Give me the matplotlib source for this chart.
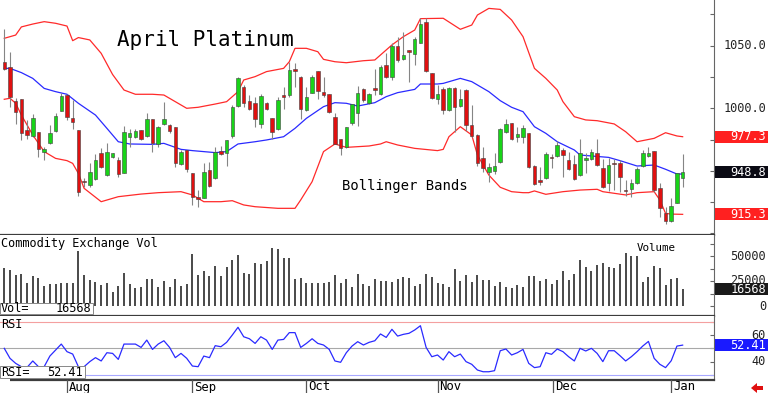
import matplotlib
matplotlib.use("Agg")
import matplotlib.pyplot as plt
import matplotlib.transforms as mtransforms
from matplotlib.patches import Rectangle, Polygon
import numpy as np

W, H = 768, 393
MONO = "DejaVu Sans Mono"
GREEN = "#18d418"
RED = "#e01010"
BAND_RED = "#ff2a2a"
BAND_BLUE = "#2a2aff"
FRAME = "#3c3c3c"

# daily OHLC, mid-Jul 2024 .. early Jan 2025 (bar index 0..119)
OPEN = [1037.2, 1033.3, 1005.8, 1007.2, 982.7, 977.9, 980.8, 965.1, 972.0, 982.1,
        998.1, 1010.4, 992.0, 982.7, 941.9, 938.7, 943.3, 964.0, 946.7, 961.4,
        958.7, 948.6, 977.3, 977.3, 982.7, 977.9, 991.7, 971.5, 987.2, 986.4,
        984.8, 955.5, 966.7, 948.1, 928.9, 928.6, 950.7, 944.1, 965.9, 964.6,
        977.9, 1001.8, 1017.3, 1006.1, 1004.5, 987.5, 1004.0, 992.0, 983.2, 1010.4,
        1010.6, 1031.1, 1024.7, 998.6, 1012.5, 1029.5, 1013.3, 1011.2, 992.8, 975.2,
        968.8, 988.5, 996.0, 1015.1, 1004.0, 1015.9, 1011.2, 1034.6, 1024.7, 1049.8,
        1039.1, 1046.6, 1043.4, 1052.4, 1068.9, 1028.5, 1007.2, 1015.7, 998.6, 1016.5,
        1001.8, 1014.6, 986.7, 978.7, 960.0, 949.4, 950.2, 957.4, 981.3, 988.0,
        976.8, 977.3, 980.5, 954.2, 942.5, 944.1, 961.4, 961.9, 966.7, 958.7,
        955.2, 946.7, 958.7, 959.2, 964.0, 952.1, 940.6, 956.6, 956.0, 935.0,
        935.3, 940.1, 953.9, 962.2, 966.2, 936.6, 916.1, 910.0, 924.6, 944.6]
HIGH = [1063.1, 1045.2, 1008.0, 1007.2, 990.7, 995.4, 980.8, 969.4, 986.7, 996.0,
        1012.0, 1011.2, 1006.6, 982.7, 944.1, 956.0, 963.5, 968.0, 972.0, 964.6,
        960.8, 985.9, 983.2, 983.2, 982.7, 996.5, 991.7, 985.9, 1005.3, 987.5,
        984.8, 966.7, 966.7, 948.1, 934.7, 956.0, 957.4, 969.4, 970.2, 974.7,
        1002.6, 1024.7, 1018.6, 1010.6, 1009.3, 1011.2, 1005.3, 992.0, 1009.3, 1017.3,
        1037.2, 1035.9, 1025.8, 1017.3, 1026.6, 1030.1, 1025.3, 1011.2, 996.5, 975.2,
        985.3, 1003.4, 1017.8, 1015.9, 1012.0, 1031.1, 1034.6, 1043.9, 1051.9, 1056.7,
        1061.2, 1046.6, 1056.7, 1071.9, 1071.9, 1028.5, 1018.6, 1017.3, 1016.7, 1016.7,
        1015.1, 1015.1, 1002.6, 979.5, 969.4, 956.6, 964.0, 984.0, 991.2, 988.0,
        985.3, 986.7, 980.5, 954.7, 953.4, 965.4, 963.5, 974.1, 968.0, 965.4,
        962.7, 975.2, 964.0, 967.5, 975.2, 959.2, 960.0, 959.2, 958.7, 942.7,
        943.3, 953.4, 966.7, 969.4, 966.2, 940.6, 920.9, 928.1, 948.1, 963.5]
LOW = [1030.6, 1001.3, 987.5, 974.7, 975.2, 977.3, 961.4, 958.7, 971.5, 981.3,
       997.8, 990.7, 983.2, 930.0, 937.4, 937.4, 942.7, 952.0, 946.2, 960.3,
       944.9, 948.1, 969.4, 976.5, 974.7, 977.3, 965.4, 969.4, 986.7, 980.5,
       953.4, 954.7, 949.4, 922.8, 921.4, 928.1, 937.4, 943.5, 962.7, 953.9,
       976.0, 1001.3, 1001.3, 998.6, 985.3, 984.0, 998.6, 975.2, 982.7, 999.2,
       1009.3, 1017.3, 991.2, 997.8, 1012.0, 1007.2, 1009.3, 996.5, 971.5, 962.7,
       968.0, 986.7, 985.9, 1005.3, 1003.4, 1010.6, 1010.6, 1023.9, 1022.6, 1037.2,
       1038.6, 1021.3, 1034.6, 1051.9, 1029.3, 1007.2, 1003.4, 995.4, 998.1, 981.3,
       1000.8, 982.1, 977.3, 953.9, 949.4, 941.4, 947.5, 956.6, 980.5, 974.7,
       973.3, 972.0, 952.1, 938.7, 938.7, 943.5, 952.1, 961.4, 945.4, 950.7,
       942.7, 946.2, 948.1, 958.7, 953.9, 936.6, 934.0, 934.7, 933.4, 930.0,
       929.4, 939.5, 953.4, 961.4, 933.4, 913.4, 907.6, 909.5, 924.1, 937.4]
CLOSE = [1031.1, 1009.3, 997.3, 980.5, 978.7, 992.0, 967.5, 967.2, 980.0, 993.9,
         1009.8, 992.8, 989.3, 933.4, 940.9, 948.9, 958.7, 953.4, 965.4, 964.0,
         947.5, 981.3, 980.5, 981.9, 975.2, 991.2, 972.0, 985.3, 991.7, 981.9,
         956.0, 965.4, 951.3, 928.9, 927.6, 948.9, 937.9, 965.4, 963.5, 974.7,
         1000.8, 1023.9, 1004.5, 999.2, 991.2, 1010.1, 999.2, 981.3, 1006.6, 1009.3,
         1030.6, 1029.5, 999.2, 1009.3, 1025.3, 1014.1, 1010.6, 997.3, 971.5, 968.0,
         984.8, 1003.2, 1012.5, 1006.6, 1011.2, 1014.6, 1033.3, 1025.3, 1049.8, 1038.6,
         1042.6, 1045.2, 1055.1, 1067.3, 1029.8, 1008.0, 1011.4, 998.6, 1016.0, 1001.3,
         1007.7, 986.7, 977.9, 956.6, 952.1, 952.8, 954.2, 983.2, 987.5, 975.2,
         979.5, 984.3, 953.4, 939.5, 941.4, 963.5, 960.0, 970.7, 962.7, 951.3,
         943.3, 964.6, 960.6, 964.8, 954.7, 937.4, 954.7, 955.2, 945.4, 933.9,
         940.6, 951.8, 964.6, 964.6, 934.7, 920.1, 910.3, 922.0, 948.1, 948.8]

VOLUME = [38300, 36000, 31000, 32000, 23300, 30000, 28300, 20000, 21600, 21600,
          23300, 22600, 23300, 55300, 31000, 26000, 24300, 21000, 23300, 14300,
          20300, 33300, 22000, 17600, 19300, 26600, 26600, 19300, 25000, 18600,
          27000, 20300, 21600, 52000, 31000, 35000, 30000, 40000, 30300, 39300,
          46000, 50600, 33300, 31600, 42600, 41600, 45000, 57600, 56600, 47600,
          47600, 26600, 28300, 23300, 23300, 23300, 23300, 23600, 31000, 23300,
          26600, 19300, 32000, 22000, 20000, 26600, 25300, 25300, 24300, 26600,
          28600, 28300, 20300, 21600, 32000, 29300, 22600, 21600, 18600, 36600,
          25000, 31000, 24300, 31000, 26000, 26000, 20300, 24300, 18600, 18300,
          21000, 19300, 30000, 30000, 25000, 27000, 22000, 26000, 35300, 26000,
          31600, 46000, 38600, 35000, 41000, 42600, 38600, 37600, 42300, 53300,
          50300, 50000, 24300, 29300, 40300, 37600, 21000, 27000, 27600, 16568]

RSI = [50.0, 42.5, 38.7, 36.2, 35.7, 40.5, 36.2, 36.2, 44.2, 48.7,
       53.2, 47.5, 45.7, 36.2, 36.2, 40.0, 43.0, 40.5, 46.7, 46.2,
       41.7, 53.2, 53.2, 53.2, 50.7, 56.2, 49.2, 53.2, 55.7, 50.7,
       43.0, 46.2, 42.5, 36.7, 36.2, 44.2, 43.0, 52.0, 51.2, 54.5,
       60.0, 65.8, 58.7, 57.2, 53.7, 58.7, 56.2, 49.2, 56.2, 56.7,
       61.8, 61.8, 50.7, 53.7, 57.2, 53.7, 52.5, 49.2, 40.5, 39.5,
       46.7, 51.7, 55.0, 52.5, 54.5, 55.7, 60.8, 58.2, 64.3, 59.2,
       60.5, 61.3, 63.8, 67.0, 50.7, 43.7, 45.0, 41.2, 47.5, 43.7,
       45.7, 40.0, 38.0, 33.7, 32.4, 32.4, 33.2, 48.2, 49.5, 45.0,
       46.7, 49.2, 38.7, 35.5, 36.2, 46.7, 45.5, 49.5, 47.5, 43.7,
       40.5, 50.0, 48.0, 50.0, 46.2, 40.0, 48.2, 48.2, 44.5, 40.5,
       43.7, 47.5, 51.7, 55.2, 42.5, 38.0, 35.5, 40.7, 51.7, 52.41]

# Bollinger bands at selected bar indices
UPPER_IDX = [0, 2, 3, 5, 7, 9, 11, 12, 13, 15, 17, 19, 21, 23, 26, 28, 30, 32, 34, 37,
             39, 41, 42, 44, 46, 49, 50, 51, 53, 55, 56, 58, 60, 63, 65, 66, 68, 70, 72,
             73, 77, 80, 82, 83, 85, 87, 89, 91, 93, 95, 97, 98, 100, 102, 104, 107, 109,
             111, 114, 116, 118, 119]
UPPER = [1055.9, 1058.5, 1065.0, 1067.3, 1069.2, 1067.9, 1065.7, 1054.0, 1056.5, 1054.6,
         1043.9, 1027.0, 1014.6, 1011.2, 1011.2, 1010.6, 1005.3, 1000.0, 1000.8, 1003.4,
         1005.3, 1013.3, 1022.6, 1025.3, 1029.3, 1031.9, 1037.2, 1047.9, 1047.9, 1045.2,
         1039.1, 1037.2, 1036.4, 1038.0, 1038.6, 1042.6, 1050.6, 1057.2, 1062.5, 1071.6,
         1071.9, 1063.1, 1066.5, 1074.5, 1079.8, 1079.0, 1070.5, 1057.2, 1031.9, 1023.9,
         1014.6, 1005.3, 993.3, 990.7, 990.1, 987.5, 981.3, 973.3, 976.0, 980.5,
         977.9, 977.3]
MID_IDX = [0, 1, 3, 5, 7, 9, 11, 13, 16, 18, 20, 22, 26, 28, 31, 33, 37, 39, 41, 44,
           46, 49, 51, 53, 56, 58, 60, 62, 65, 67, 69, 72, 73, 76, 77, 80, 82, 85, 87,
           89, 91, 93, 95, 97, 100, 101, 103, 106, 108, 111, 114, 116, 118, 119]
MID = [1031.9, 1031.9, 1028.5, 1023.9, 1015.9, 1013.3, 1011.2, 1004.0, 994.6, 984.0,
       973.3, 971.5, 971.2, 972.0, 967.2, 966.2, 964.6, 965.4, 971.5, 973.3,
       974.7, 977.3, 984.0, 992.0, 1001.3, 1004.5, 1004.0, 1001.8, 1004.5, 1009.3,
       1012.5, 1015.1, 1019.4, 1019.4, 1019.9, 1023.9, 1021.3, 1013.3, 1006.1, 1000.8,
       997.3, 985.3, 980.0, 973.3, 966.7, 962.7, 961.9, 960.8, 958.2, 953.9,
       954.7, 951.3, 947.5, 947.5]
LOWER_IDX = [0, 1, 2, 3, 5, 7, 9, 11, 12, 13, 14, 17, 20, 24, 27, 31, 33, 35, 38, 40,
             42, 44, 48, 51, 52, 54, 55, 56, 58, 60, 64, 66, 67, 69, 72, 76, 77, 78, 80,
             82, 83, 85, 87, 89, 91, 92, 93, 95, 98, 101, 104, 105, 109, 111, 114, 115,
             116, 117, 119]
LOWER = [1007.2, 1008.0, 1004.0, 994.6, 978.7, 965.4, 960.0, 958.2, 956.0, 948.0,
         936.1, 925.4, 929.4, 931.5, 932.6, 933.4, 930.8, 925.4, 925.4, 926.2,
         922.8, 921.4, 920.1, 920.1, 926.8, 941.4, 953.4, 965.4, 971.5, 968.8,
         969.9, 971.5, 973.3, 970.7, 968.0, 966.2, 967.2, 977.3, 985.3, 978.7,
         962.7, 946.7, 936.9, 933.4, 932.6, 932.6, 934.0, 931.3, 933.4, 934.7,
         935.3, 933.4, 930.8, 932.6, 933.4, 926.8, 916.1, 915.5, 915.3]

MONTHS = ["Aug", "Sep", "Oct", "Nov", "Dec", "Jan"]
MONTH_IDX = [11, 33, 53, 76, 96.3, 117]

fig = plt.figure(figsize=(W / 100, H / 100), dpi=100)
fig.patch.set_facecolor("white")


def panel(top, bottom):
    a = fig.add_axes([0, 1 - bottom / H, 714 / W, (bottom - top) / H])
    a.set_facecolor("white")
    a.set_xlim(-0.75, 124.5)
    for s in ["top", "left"]:
        a.spines[s].set_visible(False)
    a.spines["bottom"].set_color(FRAME)
    a.spines["bottom"].set_linewidth(1.6)
    a.spines["right"].set_color("#666666")
    a.spines["right"].set_linewidth(0.8)
    a.yaxis.tick_right()
    a.tick_params(axis="y", direction="in", length=3, color="#666666", labelright=False)
    a.tick_params(axis="x", length=0, labelbottom=False)
    return a


ax_p = panel(0, 235)
ax_v = panel(235, 316)
ax_r = panel(316, 380)

ax_p.set_ylim(898.8, 1086.5)
ax_v.set_ylim(-10000, 71000)
ax_r.set_ylim(26.2, 74.3)
ax_p.set_yticks(np.arange(900, 1080, 25))
ax_v.set_yticks(np.arange(0, 70000, 12500))
ax_r.set_yticks(np.arange(30, 71, 10))

# --- price panel ---
o, h, l, c = map(np.array, (OPEN, HIGH, LOW, CLOSE))
idx = np.arange(len(c))
up = c >= o
ax_p.plot(UPPER_IDX, UPPER, color=BAND_RED, lw=0.9, zorder=1)
ax_p.plot(LOWER_IDX, LOWER, color=BAND_RED, lw=0.9, zorder=1)
ax_p.plot(MID_IDX, MID, color=BAND_BLUE, lw=0.9, zorder=1)
ax_p.vlines(idx, l, h, color="#858585", lw=0.8, zorder=2)
ax_p.bar(idx, np.maximum(np.abs(c - o), 0.8), bottom=np.minimum(o, c), width=0.62,
         color=np.where(up, GREEN, RED), edgecolor="#404040", linewidth=0.4, zorder=3)

fig.text(117 / W, 1 - 40 / H, "April Platinum", family=MONO, fontsize=15,
         va="center", ha="left", color="black")
fig.text(342 / W, 1 - 186 / H, "Bollinger Bands", family=MONO, fontsize=10,
         va="center", ha="left", color="black")

# --- volume panel ---
ax_v.vlines(idx, 0, VOLUME, color="#202020", lw=1.15)
ax_v.text(0.002, 1 - 9 / 81, "Commodity Exchange Vol", transform=ax_v.transAxes,
          family=MONO, fontsize=8.6, va="center", ha="left")
ax_v.text(637 / 714, 1 - 13 / 81, "Volume", transform=ax_v.transAxes,
          family=MONO, fontsize=7.8, va="center", ha="left")

# --- RSI panel ---
ax_r.axhline(70, color="#f4a0a0", lw=0.8)
ax_r.axhline(50, color="#a8a8a8", lw=0.8)
ax_r.axhline(30, color="#a8a8ff", lw=0.8)
ax_r.plot(idx, RSI, color=BAND_BLUE, lw=0.9)
ax_r.text(0.002, 1 - 9 / 64, "RSI", transform=ax_r.transAxes,
          family=MONO, fontsize=8.6, va="center", ha="left")
ax_r.text(700 / 714, 30, "2025", family=MONO, fontsize=9, va="center", ha="right",
          bbox=dict(facecolor="white", edgecolor="none", pad=0.3))


def readout(ax, label, value_txt, x1, top_px, bot_px, panel_top, panel_h):
    y0 = 1 - (bot_px - panel_top) / panel_h
    hh = (bot_px - top_px) / panel_h
    ax.add_patch(Rectangle((0, y0), x1 / 714, hh, transform=ax.transAxes,
                           facecolor="white", edgecolor="#888888", lw=0.7, zorder=5))
    yc = y0 + hh / 2
    ax.text(0.001, yc, label, transform=ax.transAxes, family=MONO, fontsize=8.6,
            va="center", ha="left", zorder=6)
    ax.text((x1 - 2) / 714, yc, value_txt, transform=ax.transAxes, family=MONO,
            fontsize=8.6, va="center", ha="right", zorder=6)


readout(ax_v, "Vol=", "16568", 93, 303, 314, 235, 81)
readout(ax_r, "RSI=", "52.41", 85, 366, 378, 316, 64)

# --- right-hand scale labels and last-value boxes ---
X_RIGHT = 766 / W


def scale_label(ax, y, txt):
    tr = mtransforms.blended_transform_factory(fig.transFigure, ax.transData)
    fig.text(X_RIGHT, y, txt, transform=tr, family=MONO, fontsize=8.6,
             ha="right", va="center", color="#222222")


def value_box(ax, y, txt, face, half_h):
    tr = mtransforms.blended_transform_factory(fig.transFigure, ax.transData)
    fig.add_artist(Rectangle((715 / W, y - half_h), 53 / W, 2 * half_h,
                             transform=tr, facecolor=face, edgecolor="none"))
    fig.text(X_RIGHT, y, txt, transform=tr, family=MONO, fontsize=8.6,
             ha="right", va="center", color="white")


scale_label(ax_p, 1050, "1050.0")
scale_label(ax_p, 1000, "1000.0")
tr_p = mtransforms.blended_transform_factory(fig.transFigure, ax_p.transData)
fig.add_artist(Rectangle((715 / W, MID[-1] - 1.6), 53 / W, 1.6, transform=tr_p,
                         facecolor=BAND_BLUE, edgecolor="none"))
value_box(ax_p, UPPER[-1], f"{UPPER[-1]:.1f}", "#ff2020", 4.8)
value_box(ax_p, CLOSE[-1], f"{CLOSE[-1]:.1f}", "#0a0a14", 4.8)
value_box(ax_p, LOWER[-1], f"{LOWER[-1]:.1f}", "#ff2020", 4.8)

scale_label(ax_v, 50000, "50000")
scale_label(ax_v, 25000, "25000")
scale_label(ax_v, 0, "0")
value_box(ax_v, VOLUME[-1], f"{VOLUME[-1]}", "#1a1a1a", 6000)

scale_label(ax_r, 60, "60")
scale_label(ax_r, 40, "40")
value_box(ax_r, RSI[-1], f"{RSI[-1]:.2f}", "#1a1aff", 4.6)

# --- month axis under the RSI panel ---
tr_m = mtransforms.blended_transform_factory(ax_r.transData, fig.transFigure)
for name, m in zip(MONTHS, MONTH_IDX):
    fig.add_artist(plt.Line2D([m, m], [0, 13 / H], transform=tr_m, color="#555555", lw=0.9))
    fig.text(m + 0.3, 6 / H, name, transform=tr_m, family=MONO, fontsize=8.8,
             ha="left", va="center")

# red arrow, bottom right (pixel coords)
arrow = [(751, 393 - 388), (757, 393 - 383), (757, 393 - 386), (763, 393 - 386),
         (763, 393 - 390), (757, 393 - 390), (757, 393 - 393)]
fig.add_artist(Polygon(arrow, closed=True, transform=None, facecolor="#e01010",
                       edgecolor="none"))

fig.savefig("out.png", dpi=100, facecolor="white")
